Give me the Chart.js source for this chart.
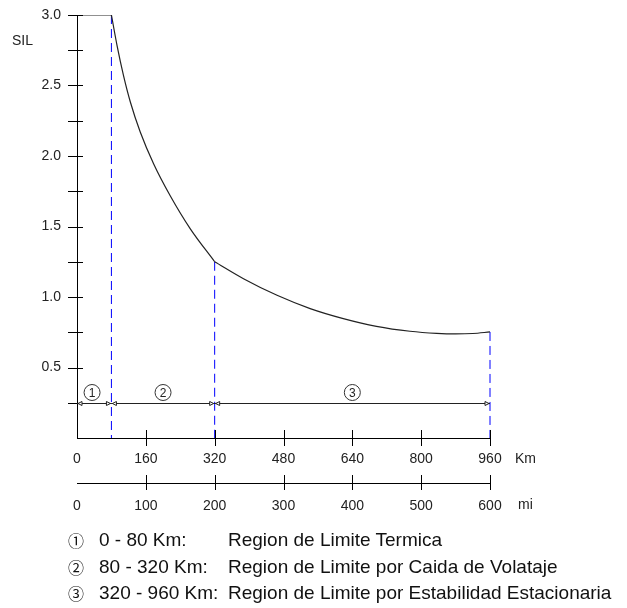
<!DOCTYPE html>
<html>
<head>
<meta charset="utf-8">
<script src="https://cdn.jsdelivr.net/npm/chart.js@4.4.1/dist/chart.umd.min.js"></script>
<style>
  html, body { margin: 0; padding: 0; background: #fff; }
  #wrap { position: relative; width: 627px; height: 608px; }
  #sil { position: absolute; left: 0; top: 0; }
  .lg { position: absolute; font-family: "Liberation Sans", Arial, sans-serif; font-size: 19px; color: #111; line-height: 26px; white-space: nowrap; }
  .lg .num { position: absolute; left: 68px; font-family: "Noto Sans CJK JP", "DejaVu Sans", sans-serif; font-size: 16px; color: #111; }
  .lg .rng { position: absolute; left: 99px; }
  .lg .name { position: absolute; left: 228px; }
</style>
</head>
<body>
<div id="wrap">
  <canvas id="sil" width="627" height="608"></canvas>
  <div id="legend"></div>
</div>
<script>
// ---- data (SIL vs line length) ----
const thermalKm = [0, 80];
const thermalSIL = [3.0, 3.0];
const voltageKm = [80, 93, 108, 124, 147, 178, 217, 263, 320];
const voltageSIL = [3.0, 2.785, 2.572, 2.383, 2.17, 1.945, 1.716, 1.485, 1.25];
const stabilityKm = [320, 387, 465, 542, 619, 696, 774, 836, 880, 920, 960];
const stabilitySIL = [1.25, 1.13, 1.012, 0.918, 0.847, 0.792, 0.757, 0.742, 0.738, 0.741, 0.752];

// region boundaries (Km) and the SIL where each dashed line starts
const boundaryKm = [80, 320, 960];
const boundarySIL = [3.0, 1.25, 0.752];
const regionKm = [0, 80, 320, 960];
const regionMarkLevel = 0.245;
const regionLabelKm = [35, 200, 640];
const regionNums = ['1', '2', '3'];

// axes
const kmTicks = [0, 160, 320, 480, 640, 800, 960];
const miTicks = [0, 100, 200, 300, 400, 500, 600];
const silTicks = [0.25, 0.5, 0.75, 1.0, 1.25, 1.5, 1.75, 2.0, 2.25, 2.5, 2.75, 3.0];

// legend text
const legendNums = ['\u2460', '\u2461', '\u2462'];
const legendRanges = ['0 - 80 Km:', '80 - 320 Km:', '320 - 960 Km:'];
const legendNames = [
  'Region de Limite Termica',
  'Region de Limite por Caida de Volataje',
  'Region de Limite por Estabilidad Estacionaria'
];

const toXY = (xs, ys) => xs.map((x, i) => ({ x: x, y: ys[i] }));

Chart.defaults.font.family = '"Liberation Sans", Arial, sans-serif';
Chart.defaults.font.size = 14;
Chart.defaults.color = '#222';

const curveStyle = {
  borderColor: '#222',
  borderWidth: 1.2,
  pointRadius: 0,
  fill: false,
  cubicInterpolationMode: 'monotone'
};

const datasets = [
  Object.assign({ label: 'Termica', data: toXY(thermalKm, thermalSIL) }, curveStyle),
  Object.assign({ label: 'Caida de Voltaje', data: toXY(voltageKm, voltageSIL) }, curveStyle),
  Object.assign({ label: 'Estabilidad', data: toXY(stabilityKm, stabilitySIL) }, curveStyle)
];
boundaryKm.forEach((km, i) => {
  datasets.push({
    label: 'limite ' + km,
    data: [{ x: km, y: boundarySIL[i] }, { x: km, y: 0 }],
    borderColor: '#0000ff',
    borderWidth: 1,
    borderDash: [9, 5],
    pointRadius: 0,
    fill: false,
    clip: 4
  });
});

// tick marks crossing the axes, region markers and axis captions
const decorPlugin = {
  id: 'decor',
  afterDatasetsDraw(chart) {
    const ctx = chart.ctx;
    const x = chart.scales.x, x2 = chart.scales.x2, y = chart.scales.y;
    const area = chart.chartArea;
    ctx.save();
    ctx.strokeStyle = '#000';
    ctx.lineWidth = 1;
    ctx.beginPath();
    silTicks.forEach(v => {
      const py = Math.round(y.getPixelForValue(v)) + 0.5;
      ctx.moveTo(area.left - 9, py);
      ctx.lineTo(area.left + 6, py);
    });
    kmTicks.slice(1).forEach(v => {
      const px = Math.round(x.getPixelForValue(v)) + 0.5;
      ctx.moveTo(px, area.bottom - 8);
      ctx.lineTo(px, area.bottom + 8);
    });
    miTicks.slice(1).forEach(v => {
      const px = Math.round(x2.getPixelForValue(v)) + 0.5;
      ctx.moveTo(px, x2.top - 8);
      ctx.lineTo(px, x2.top + 7);
    });
    ctx.stroke();

    // region marker line with small arrow heads
    const ly = Math.round(y.getPixelForValue(regionMarkLevel)) + 0.5;
    ctx.strokeStyle = '#222';
    ctx.beginPath();
    ctx.moveTo(x.getPixelForValue(regionKm[0]), ly);
    ctx.lineTo(x.getPixelForValue(regionKm[regionKm.length - 1]), ly);
    ctx.stroke();
    ctx.fillStyle = '#fff';
    for (let i = 0; i < regionKm.length - 1; i++) {
      const a = x.getPixelForValue(regionKm[i]) + 1;
      const b = x.getPixelForValue(regionKm[i + 1]) - 1;
      ctx.beginPath();
      ctx.moveTo(a, ly); ctx.lineTo(a + 4, ly - 2); ctx.lineTo(a + 4, ly + 2); ctx.closePath();
      ctx.moveTo(b, ly); ctx.lineTo(b - 4, ly - 2); ctx.lineTo(b - 4, ly + 2); ctx.closePath();
      ctx.fill(); ctx.stroke();
    }

    // circled region numbers
    ctx.font = '12px "Liberation Sans", Arial, sans-serif';
    ctx.textAlign = 'center';
    ctx.textBaseline = 'middle';
    regionLabelKm.forEach((km, i) => {
      const cx = x.getPixelForValue(km), cy = ly - 11;
      ctx.beginPath();
      ctx.arc(cx, cy, 8, 0, Math.PI * 2);
      ctx.strokeStyle = '#333';
      ctx.stroke();
      ctx.fillStyle = '#222';
      ctx.fillText(regionNums[i], cx, cy + 1);
    });

    // axis captions
    ctx.font = '14px "Liberation Sans", Arial, sans-serif';
    ctx.fillStyle = '#222';
    ctx.textAlign = 'left';
    ctx.fillText('SIL', 12, 41);
    ctx.fillText('Km', area.right + 25, area.bottom + 21);
    ctx.fillText('mi', area.right + 28, x2.top + 22);
    ctx.restore();
  }
};

new Chart(document.getElementById('sil'), {
  type: 'line',
  data: { datasets: datasets },
  options: {
    responsive: false,
    animation: false,
    layout: { padding: { left: 0, top: 15, right: 137, bottom: 85 } },
    plugins: { legend: { display: false }, tooltip: { enabled: false } },
    scales: {
      x: {
        type: 'linear',
        position: 'bottom',
        min: 0,
        max: 960,
        weight: 0,
        afterFit: s => { s.height = 45; },
        afterBuildTicks: s => { s.ticks = kmTicks.map(v => ({ value: v })); },
        grid: { display: false, drawTicks: false },
        border: { display: true, color: '#000', width: 1 },
        ticks: { padding: 13, maxRotation: 0, autoSkip: false }
      },
      x2: {
        type: 'linear',
        position: 'bottom',
        min: 0,
        max: 600,
        weight: 1,
        afterFit: s => { s.height = 40; },
        afterBuildTicks: s => { s.ticks = miTicks.map(v => ({ value: v })); },
        grid: { display: false, drawTicks: false },
        border: { display: true, color: '#000', width: 1 },
        ticks: { padding: 15, maxRotation: 0, autoSkip: false }
      },
      y: {
        type: 'linear',
        min: 0,
        max: 3,
        afterFit: s => { s.width = 77; s.paddingTop = 0; s.paddingBottom = 0; },
        afterBuildTicks: s => { s.ticks = silTicks.map(v => ({ value: v })); },
        grid: { display: false, drawTicks: false },
        border: { display: true, color: '#000', width: 1 },
        ticks: {
          padding: 16,
          autoSkip: false,
          callback: v => (Math.abs(v * 2 - Math.round(v * 2)) < 1e-9 ? v.toFixed(1) : '')
        }
      }
    }
  },
  plugins: [decorPlugin]
});

// legend below the chart
const legend = document.getElementById('legend');
const rowTops = [527, 554, 580];
legendNames.forEach((name, i) => {
  const row = document.createElement('div');
  row.className = 'lg';
  row.style.top = rowTops[i] + 'px';
  row.style.left = '0px';
  row.innerHTML = '<span class="num">' + legendNums[i] + '</span>' +
    '<span class="rng">' + legendRanges[i] + '</span>' +
    '<span class="name">' + name + '</span>';
  legend.appendChild(row);
});
</script>
</body>
</html>
